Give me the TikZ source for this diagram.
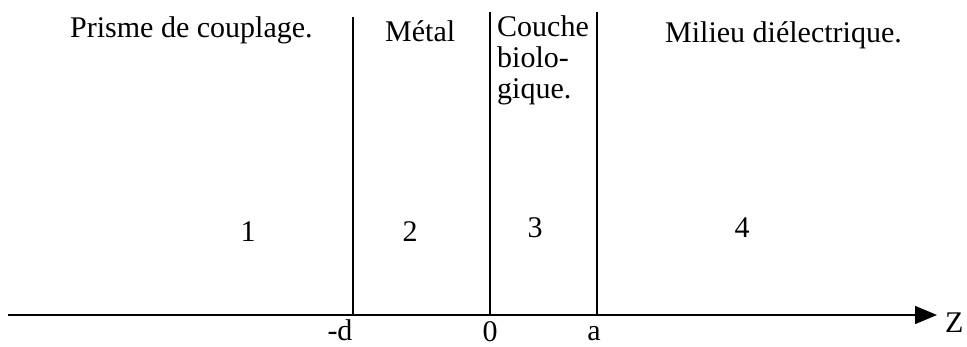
\documentclass[tikz,border=0pt]{standalone}
\usepackage{fontspec}
\setmainfont{Liberation Serif}
\usetikzlibrary{arrows.meta}
\begin{document}
\begin{tikzpicture}[x=1pt,y=-1pt,
  txt/.style={inner sep=0pt,font=\fontsize{30}{31}\selectfont},
  ln/.style={line width=1.6pt,black},
  axis/.style={line width=1.6pt,-{Triangle[length=22pt,width=18pt]}}]
\useasboundingbox (0,0) rectangle (967,347);
% axis
\coordinate (a0) at (8,315);
\coordinate (a1) at (937,315);
\draw[axis] (a0) -- (a1);
% interfaces
\coordinate (b1) at (353,315); \coordinate (t1) at (353,17);
\coordinate (b2) at (490,315); \coordinate (t2) at (490,12);
\coordinate (b3) at (597,315); \coordinate (t3) at (597,12);
\draw[ln] (t1) -- (b1);
\draw[ln] (t2) -- (b2);
\draw[ln] (t3) -- (b3);
% titles
\node[txt,anchor=base west] (prisme) at (70,38) {Prisme de couplage.};
\node[txt,anchor=base west] (metal) at (385,42) {Métal};
\node[txt,anchor=base west,align=left] (couche) at (497,99) {Couche\\biolo-\\gique.};
\node[txt,anchor=base west] (milieu) at (665,43) {Milieu diélectrique.};
% region numbers
\node[txt,anchor=base] (n1) at (248,242) {1};
\node[txt,anchor=base] (n2) at (410,242) {2};
\node[txt,anchor=base] (n3) at (535,238) {3};
\node[txt,anchor=base] (n4) at (742,238) {4};
% axis labels
\node[txt,anchor=base] (ld) at (340,341) {-d};
\node[txt,anchor=base] (l0) at (490,342) {0};
\node[txt,anchor=base] (la) at (594,341) {a};
\node[txt,anchor=base west] (lz) at (945,333) {Z};
\end{tikzpicture}
\end{document}
